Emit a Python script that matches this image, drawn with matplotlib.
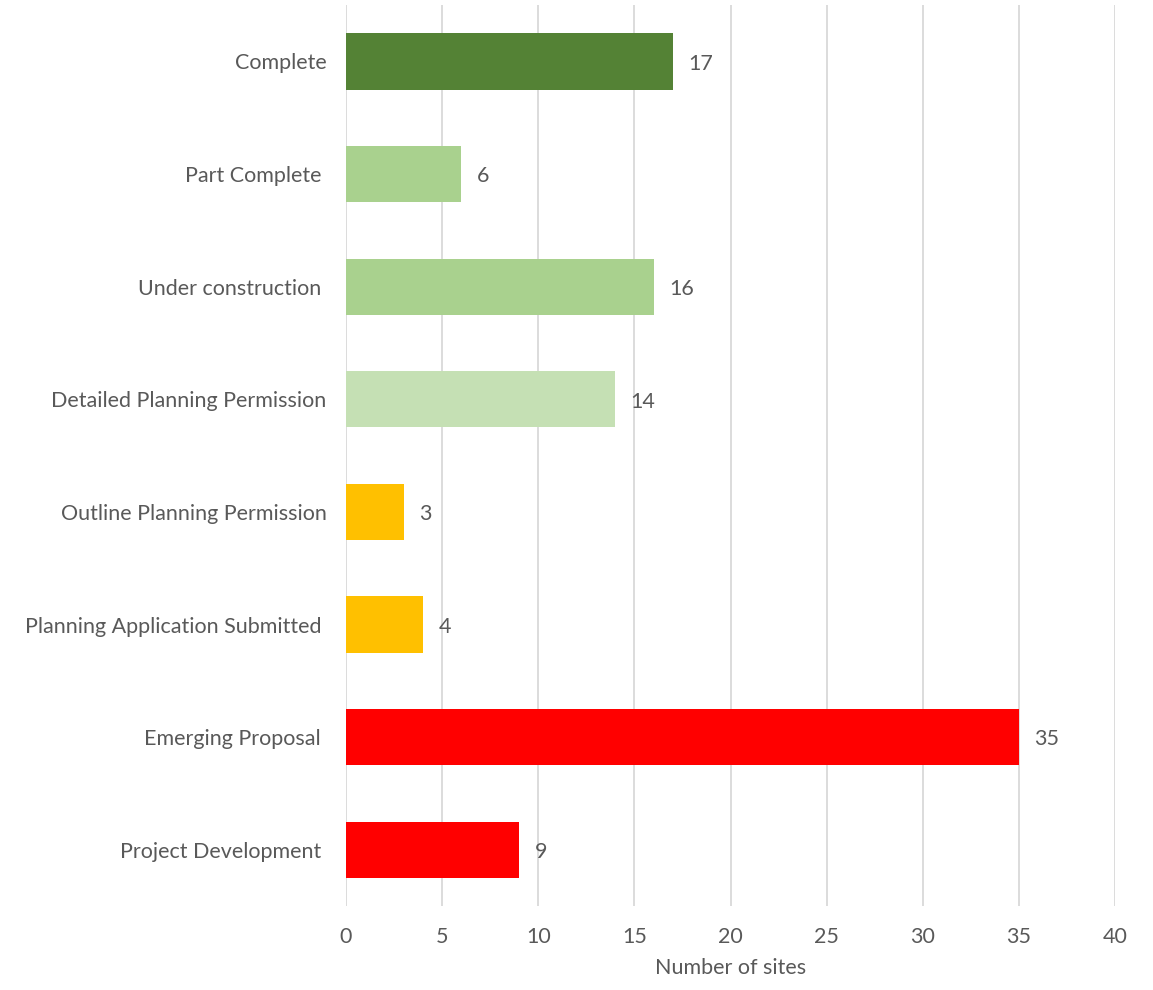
import matplotlib
matplotlib.use("Agg")
import matplotlib.pyplot as plt

plt.rcParams['font.family'] = ['Lato', 'DejaVu Sans']

# data, top to bottom as shown
stages = ["Complete", "Part Complete ", "Under construction ", "Detailed Planning Permission",
          "Outline Planning Permission", "Planning Application Submitted ", "Emerging Proposal ",
          "Project Development "]
sites = [17, 6, 16, 14, 3, 4, 35, 9]
colours = ["#548235", "#A9D18E", "#A9D18E", "#C5E0B4", "#FFC000", "#FFC000", "#FF0000", "#FF0000"]
xticks = [0, 5, 10, 15, 20, 25, 30, 35, 40]

TEXT = "#595959"
FS = 15.5

fig = plt.figure(figsize=(11.53, 9.9), dpi=100)
ax = fig.add_axes([0.3001, 0.0848, 0.667, 0.910])

y = list(range(len(stages)))
ax.barh(y, sites, height=0.5, color=colours, zorder=3)
for yi, v in zip(y, sites):
    ax.text(v + 0.8, yi + 0.02, str(v), va="center", ha="left", fontsize=FS, color=TEXT)

ax.set_ylim(len(stages) - 0.5, -0.5)
ax.set_xlim(0, 40)
ax.set_xticks(xticks)
ax.set_yticks(y)
ax.set_yticklabels(stages)
ax.tick_params(axis="both", length=0, labelsize=FS, labelcolor=TEXT)
ax.tick_params(axis="x", pad=15)
ax.tick_params(axis="y", pad=14)
ax.grid(axis="x", color="#D9D9D9", linewidth=1.3, zorder=0)
for s in ax.spines.values():
    s.set_visible(False)
ax.set_xlabel("Number of sites", fontsize=FS, color=TEXT, labelpad=8)

fig.savefig("out.png", dpi=100)
